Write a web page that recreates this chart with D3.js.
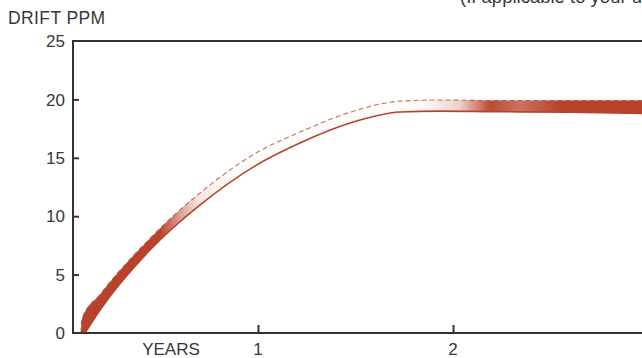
<!DOCTYPE html>
<html><head><meta charset="utf-8">
<script src="https://cdn.jsdelivr.net/npm/d3@7"></script>
<style>
html,body{margin:0;padding:0;background:#fff;}
svg{display:block;}
text{font-family:"Liberation Sans",Arial,sans-serif;fill:#383838;}
</style></head>
<body>
<script>
// ---- data ----
const upperYears = [0.092, 0.097, 0.190, 0.446, 0.703, 1.010, 1.215, 1.472, 1.728, 1.933, 2.2, 2.6, 2.97];
const upperPPM   = [0.0,   1.2,   3.3,   8.1,   12.0,  15.6,  17.2,  18.9,  19.85, 19.95, 19.9, 19.9, 19.9];
const lowerYears = [0.113, 0.190, 0.446, 0.703, 1.010, 1.215, 1.472, 1.728, 1.933, 2.2, 2.6, 2.97];
const lowerPPM   = [0.0,   1.97,  7.1,   10.96, 14.55, 16.27, 17.98, 18.92, 19.0,  18.95, 18.9, 18.8];
const yTicks = [0, 5, 10, 15, 20, 25];
const xTicks = [1, 2, 3];
const yTitle = "DRIFT PPM";
const xTitle = "YEARS";
const note = "(If applicable to your unit)";

const W = 642, H = 358;
const red = "#b8432c", ink = "#333";
const svg = d3.select("body").append("svg").attr("width", W).attr("height", H);

const x = d3.scaleLinear().domain([0.0513, 2.969]).range([73, 642]);
const y = d3.scaleLinear().domain([0, 25]).range([333, 41]);

const upper = upperYears.map((t, i) => [t, upperPPM[i]]);
const lower = lowerYears.map((t, i) => [t, lowerPPM[i]]);

// gradient for band fill (solid near origin, hollow in the middle, solid on plateau)
const defs = svg.append("defs");
const g = defs.append("linearGradient").attr("id", "bandFill")
  .attr("gradientUnits", "userSpaceOnUse")
  .attr("x1", x.range()[0]).attr("x2", x.range()[1]).attr("y1", 0).attr("y2", 0);
const span = x.range()[1] - x.range()[0];
[[73,1],[160,1],[180,0.5],[200,0.12],[230,0.02],[420,0.02],[460,0.25],[490,0.95],[520,0.75],[560,1],[642,1]]
  .forEach(([px, o]) => g.append("stop").attr("offset", (px - 73) / span).attr("stop-color", red).attr("stop-opacity", o));

const lineGen = d3.line().x(d => x(d[0])).y(d => y(d[1])).curve(d3.curveMonotoneX);
const upPath = lineGen(upper);
const loPath = lineGen(lower.slice().reverse());
svg.append("path").attr("d", upPath + "L" + loPath.slice(1) + "Z").attr("fill", "url(#bandFill)");

// lower edge, solid
svg.append("path").attr("d", lineGen(lower)).attr("fill", "none").attr("stroke", red).attr("stroke-width", 1.6);
// upper edge, dashed
svg.append("path").attr("d", lineGen(upper)).attr("fill", "none").attr("stroke", red)
  .attr("stroke-width", 1.1).attr("stroke-dasharray", "5,3").attr("opacity", 0.75);

// frame
const fr = svg.append("g").attr("stroke", ink).attr("stroke-width", 2).attr("fill", "none");
fr.append("line").attr("x1", x.range()[0]).attr("x2", W).attr("y1", y(25)).attr("y2", y(25));
fr.append("line").attr("x1", x.range()[0]).attr("x2", x.range()[0]).attr("y1", y(25) - 1).attr("y2", y(0) + 1);

// x axis
const xa = svg.append("g").attr("transform", `translate(0,${y(0)})`)
  .call(d3.axisTop(x).tickValues(xTicks).tickSize(8).tickFormat(""));
xa.select(".domain").attr("stroke", ink).attr("stroke-width", 2).attr("d", `M${x.range()[0]},0H${W}`);
xa.selectAll(".tick line").attr("stroke", ink).attr("stroke-width", 2);
svg.append("g").selectAll("text").data(xTicks).join("text")
  .attr("x", d => x(d)).attr("y", 355).attr("text-anchor", "middle").attr("font-size", 17).text(d => d);
svg.append("text").attr("x", 171).attr("y", 355).attr("text-anchor", "middle").attr("font-size", 17).text(xTitle);

// y axis
const ya = svg.append("g").attr("transform", `translate(${x.range()[0]},0)`)
  .call(d3.axisRight(y).tickValues(yTicks.filter(v => v > 0 && v < 25)).tickSize(6).tickFormat(""));
ya.select(".domain").remove();
ya.selectAll(".tick line").attr("stroke", ink).attr("stroke-width", 2);
svg.append("g").selectAll("text").data(yTicks).join("text")
  .attr("x", 65).attr("y", d => y(d)).attr("dy", "0.36em").attr("text-anchor", "end").attr("font-size", 17).text(d => d);
svg.append("text").attr("x", 8).attr("y", 24).attr("font-size", 17.5).attr("letter-spacing", 0.4).text(yTitle);

// note at top right (clipped by page top, as in the reference)
svg.append("text").attr("x", 460).attr("y", 3).attr("font-size", 18.5).text(note);
</script>
</body></html>
